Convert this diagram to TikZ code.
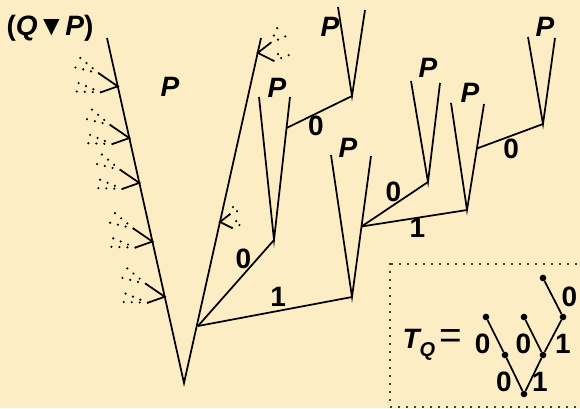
\documentclass[tikz,border=0pt]{standalone}
\usepackage{fontspec}
\setmainfont{Liberation Sans}
\usepackage{tikz}
\usetikzlibrary{calc}

\definecolor{paper}{RGB}{253,237,196}

\begin{document}
\begin{tikzpicture}[
  x=0.75pt, y=-0.75pt,
  edge/.style={line width=1.3pt},
  dots/.style={line width=1.8pt,line cap=round,dash pattern=on 0pt off 6pt},
  lbl/.style={font=\fontsize{21}{24}\selectfont\bfseries,inner sep=1pt},
  plbl/.style={font=\fontsize{21}{24}\selectfont\bfseries\itshape,inner sep=1pt},
  tnode/.style={circle,fill,inner sep=0pt,minimum size=5pt},
  lstub/.pic={
    \coordinate (-u) at (-19,-13);
    \coordinate (-d) at (-17,6);
    \draw[edge] (-u) -- (0,0) -- (-d);
    \draw[dots] (-u) -- +(-24,-20) (-u) -- +(-28,-7)
                (-d) -- +(-31,-1) (-d) -- +(-29,-12);
  },
  rstub/.pic={
    \coordinate (-u) at (13,-10);
    \coordinate (-d) at (16,8);
    \draw[edge] (-u) -- (0,0) -- (-d);
    \draw[dots] (-u) -- +(8,-18) (-u) -- +(16,-7)
                (-d) -- +(7,-11) (-d) -- +(16,-6);
  }
]
\fill[paper] (0,0) rectangle (580,408);
\useasboundingbox (0,0) rectangle (580,408);
\clip (0,0) rectangle (580,408);

% tree points
\coordinate (root) at (184,383);
\coordinate (ltop) at (107,38);
\coordinate (rtop) at (261,38);
\coordinate (a) at (198,326);
\coordinate (b) at (274,240);
\coordinate (bl) at (259,97);
\coordinate (br) at (290,97);
\coordinate (c) at ($(b)!0.783!(br)$);
\coordinate (d) at (352,96);
\coordinate (dl) at (338,7);
\coordinate (dr) at (365,10);
\coordinate (e) at (352,297);
\coordinate (el) at (331,155);
\coordinate (er) at (371,156);
\coordinate (f) at ($(e)!0.5!(er)$);
\coordinate (g) at (428,182);
\coordinate (gl) at (411,81);
\coordinate (gr) at (440,83);
\coordinate (h) at (467,210);
\coordinate (hl) at (451,103);
\coordinate (hr) at (484,104);
\coordinate (i) at ($(h)!0.58!(hr)$);
\coordinate (j) at (543,124);
\coordinate (jl) at (528,37);
\coordinate (jr) at (555,38);

\draw[edge] (ltop) -- (root) -- (rtop);
\draw[edge] (a) -- node[lbl,pos=0.78,left=3pt] (lab) {0} (b);
\draw[edge] (a) -- node[lbl,pos=0.52,above=2pt] (lae) {1} (e);
\draw[edge] (bl) -- (b) -- (br);
\draw[edge] (c) -- node[lbl,pos=0.45,below=0pt] (lcd) {0} (d);
\draw[edge] (dl) -- (d) -- (dr);
\draw[edge] (el) -- (e) -- (er);
\draw[edge] (f) -- node[lbl,pos=0.48,above=1pt] (lfg) {0} (g);
\draw[edge] (f) -- node[lbl,pos=0.53,below=-1pt] (lfh) {1} (h);
\draw[edge] (gl) -- (g) -- (gr);
\draw[edge] (hl) -- (h) -- (hr);
\draw[edge] (i) -- node[lbl,pos=0.52,below=1pt] (lij) {0} (j);
\draw[edge] (jl) -- (j) -- (jr);

% cut-off subtrees
\foreach \t [count=\k] in {0.25,0.41,0.58,0.71,0.86}
  \pic (ls\k) at ($(root)!\t!(ltop)$) {lstub};
\pic[scale=0.75] (rs1) at ($(root)!0.467!(rtop)$) {rstub};
\pic (rs2) at ($(root)!0.957!(rtop)$) {rstub};

\node[plbl] (qp) at (50,28) {\upshape(\itshape Q\upshape ▼\itshape P\upshape)};
\node[plbl] (p0) at (170,87) {P};
\node[plbl] (p1) at (277,88) {P};
\node[plbl] (p2) at (330,27) {P};
\node[plbl] (p3) at (348,148) {P};
\node[plbl] (p4) at (428,68) {P};
\node[plbl] (p5) at (470,93) {P};
\node[plbl] (p6) at (545,27) {P};

% the tree T_Q
\draw[dots] (390,264) rectangle (600,407);
\node[lbl,anchor=base west] (tq) at (401,348) {\itshape T\raisebox{-0.3em}{\fontsize{15}{15}\selectfont Q}\,{\upshape\mdseries\fontsize{29}{29}\selectfont =}};
\node[tnode] (tq0) at (524,394) {};
\node[tnode] (tq1) at (505,355) {};
\node[tnode] (tq2) at (543,355) {};
\node[tnode] (tq3) at (486,317) {};
\node[tnode] (tq4) at (524,317) {};
\node[tnode] (tq5) at (563,317) {};
\node[tnode] (tq6) at (543,278) {};
\draw[edge] (tq0) -- node[lbl,pos=0.28,left=3pt] (t01) {0} (tq1);
\draw[edge] (tq0) -- node[lbl,pos=0.28,right=0pt] (t02) {1} (tq2);
\draw[edge] (tq1) -- node[lbl,pos=0.26,left=5pt] (t13) {0} (tq3);
\draw[edge] (tq2) -- node[lbl,pos=0.26,left=3pt] (t24) {0} (tq4);
\draw[edge] (tq2) -- node[lbl,pos=0.26,right=3pt] (t25) {1} (tq5);
\draw[edge] (tq5) -- node[lbl,pos=0.51,right=5pt] (t56) {0} (tq6);
\end{tikzpicture}
\end{document}
